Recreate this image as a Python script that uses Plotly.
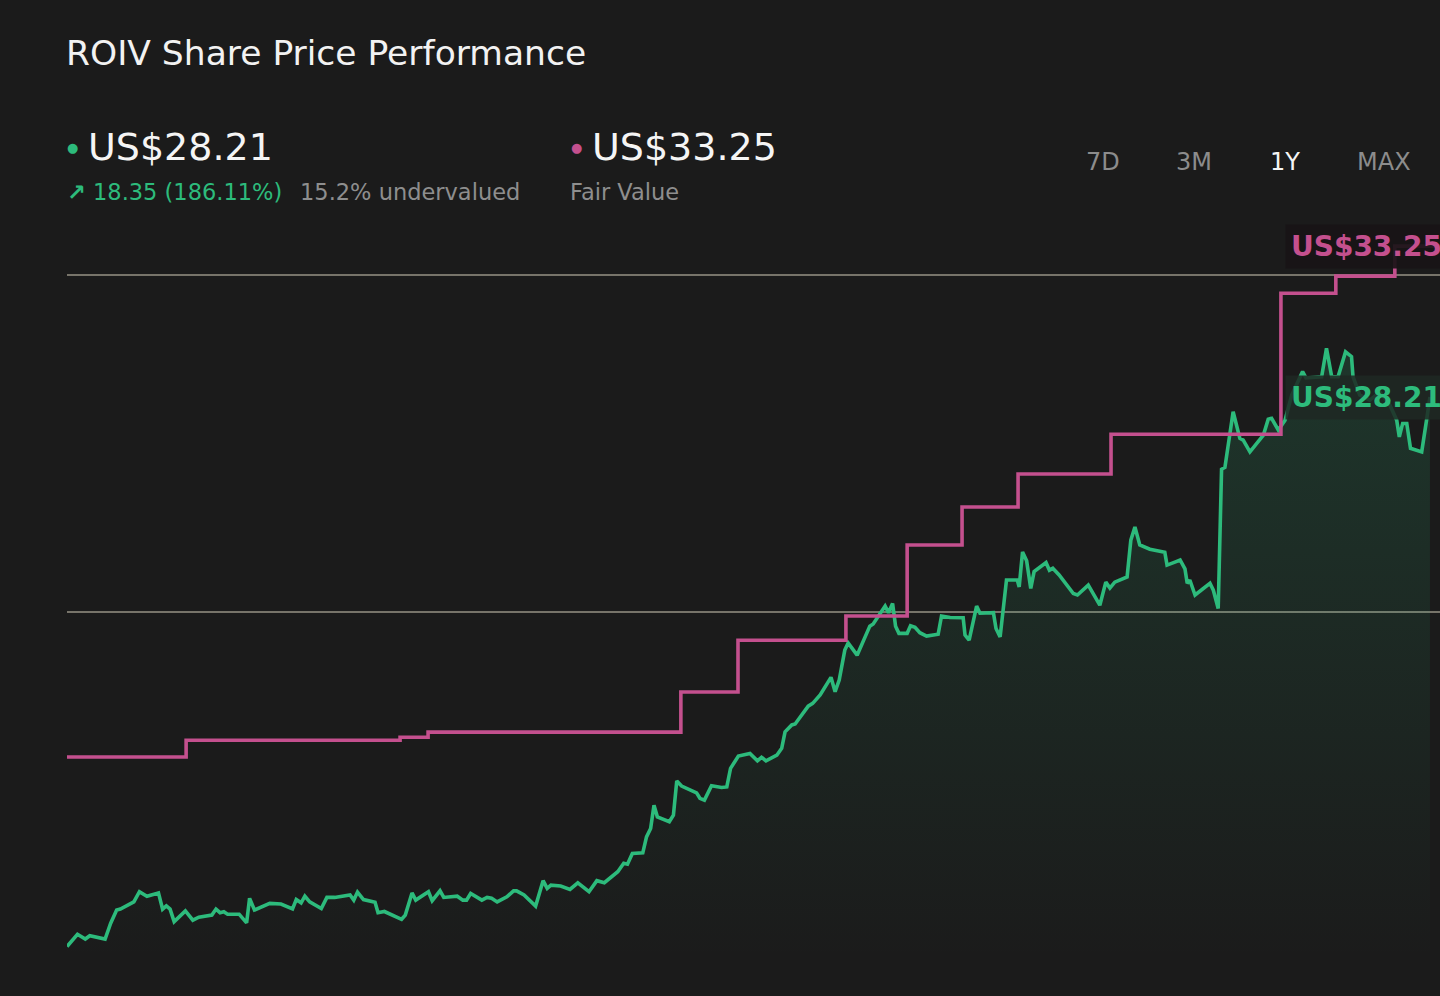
import plotly.graph_objects as go

# ROIV share price over the last year (x = days since start, y = US$)
days = [0, 2.8, 4.9, 6.1, 10.2, 11.7, 13.3, 14.3, 17.9, 19.4, 21.4, 24.5, 25.6, 26.6, 27.6, 28.7,
        31.7, 33.7, 35.3, 38.8, 39.9, 41.0, 42.0, 43.0, 46.1, 48.1, 48.9, 50.2, 54.3, 57.3, 60.4,
        61.4, 62.7, 63.7, 65.0, 68.1, 69.6, 71.7, 75.8, 76.8, 77.8, 79.4, 82.5, 83.3, 85.0, 89.6,
        90.6, 92.4, 93.4, 96.8, 97.8, 99.9, 100.9, 104.5, 106.0, 107.0, 108.1, 111.1, 112.5, 113.7,
        115.2, 117.8, 119.6, 120.4, 122.4, 125.5, 127.5, 128.6, 129.6, 132.2, 134.7, 136.8, 139.8,
        141.9, 143.9, 147.5, 149.1, 150.1, 151.4, 154.2, 155.2, 156.3, 157.2, 158.1, 161.3, 162.4,
        163.3, 164.6, 168.6, 169.5, 170.7, 172.6, 175.3, 176.7, 177.7, 179.8, 182.9, 184.9, 186.0,
        187.2, 190.1, 191.4, 192.3, 194.1, 195.0, 197.2, 198.5, 199.7, 201.7, 204.6, 205.7, 206.8,
        208.3, 209.2, 211.6, 215.0, 215.9, 219.1, 220.0, 221.1, 221.9, 222.8, 225.0, 225.9, 227.1,
        228.4, 230.2, 233.3, 234.2, 236.5, 240.0, 240.5, 241.6, 243.6, 244.5, 248.1, 248.8, 249.9,
        251.6, 254.5, 255.0, 255.9, 257.0, 258.1, 259.0, 262.2, 263.1, 264.0, 265.7, 269.5, 270.6,
        273.5, 276.6, 278.2, 279.3, 280.6, 283.9, 284.9, 286.0, 287.3, 290.0, 294.0, 294.6, 296.7,
        298.1, 299.4, 300.0, 300.7, 302.1, 306.1, 307.0, 308.3, 309.2, 310.1, 311.4, 312.3, 314.1,
        315.0, 316.8, 320.4, 321.7, 322.6, 324.4, 326.2, 328.0, 330.9, 331.8, 336.0, 337.3, 338.7,
        340.4, 342.4, 344.0, 344.4, 346.2, 348.9, 351.6, 354.3, 356.1, 356.8, 357.7, 358.8, 359.8,
        362.8, 364.1, 365.0]
price = [9.86, 10.27, 10.11, 10.22, 10.11, 10.64, 11.08, 11.11, 11.35, 11.69, 11.54, 11.65, 11.11,
         11.22, 11.11, 10.69, 11.05, 10.74, 10.84, 10.91, 11.11, 10.99, 11.02, 10.94, 10.94, 10.65,
         11.47, 11.08, 11.30, 11.28, 11.12, 11.43, 11.32, 11.54, 11.35, 11.13, 11.50, 11.50, 11.58,
         11.41, 11.68, 11.43, 11.34, 10.99, 11.03, 10.77, 10.91, 11.65, 11.41, 11.69, 11.39, 11.72,
         11.50, 11.54, 11.41, 11.41, 11.63, 11.41, 11.50, 11.47, 11.35, 11.52, 11.72, 11.72, 11.58,
         11.21, 12.06, 11.80, 11.91, 11.88, 11.77, 11.99, 11.69, 12.06, 11.99, 12.36, 12.64, 12.61,
         12.97, 12.99, 13.52, 13.80, 14.58, 14.19, 14.03, 14.25, 15.39, 15.22, 14.99, 14.81, 14.75,
         15.23, 15.17, 15.19, 15.81, 16.22, 16.31, 16.06, 16.18, 16.06, 16.25, 16.48, 17.03, 17.26,
         17.29, 17.70, 17.89, 17.98, 18.26, 18.85, 18.37, 18.76, 19.76, 20.00, 19.59, 20.56, 20.63,
         21.23, 21.01, 21.32, 20.56, 20.32, 20.32, 20.57, 20.52, 20.34, 20.23, 20.29, 20.90, 20.85,
         20.84, 20.26, 20.09, 21.23, 20.99, 21.01, 20.48, 20.20, 22.10, 22.10, 21.87, 23.04, 22.74,
         21.82, 22.38, 22.68, 22.43, 22.49, 22.27, 21.65, 21.60, 21.93, 21.26, 22.03, 21.83, 22.03,
         22.20, 23.43, 23.87, 23.27, 23.13, 23.03, 22.60, 22.70, 22.77, 22.47, 21.99, 22.10, 21.60,
         21.99, 21.76, 21.15, 25.80, 25.86, 26.88, 27.72, 26.83, 26.77, 26.38, 26.94, 27.47, 27.50,
         27.11, 27.44, 28.28, 29.06, 28.85, 28.89, 29.84, 28.89, 28.89, 29.72, 29.56, 28.89, 28.28,
         28.11, 28.38, 27.94, 27.44, 26.88, 27.33, 27.33, 26.50, 26.38, 27.44, 28.21]

# Fair value estimate (step changes)
fv_days = [0, 31.9, 89.2, 96.7, 164.4, 179.7, 208.6, 225.0, 239.7, 254.7, 279.6, 325.1, 339.8,
           355.6, 367.7]
fv_values = [16.19, 16.75, 16.85, 17.02, 18.36, 20.09, 20.90, 23.27, 24.54, 25.64, 26.97, 31.68,
             32.25, 33.25, 33.25]

grid_levels = [21.03, 32.29]
periods = ["7D", "3M", "1Y", "MAX"]

GREEN = "#2dbb7c"
PINK = "#c4508e"
BG = "#1b1b1b"
FONT = "DejaVu Sans"

W, H = 1440, 996
L, R, T, B = 67, 0, 230, 36


def px(x):
    return (x - L) / (W - L - R)


def py(y):
    return (H - B - y) / (H - B - T)


fig = go.Figure()

fig.add_trace(go.Scatter(
    x=days, y=price, mode="lines",
    line=dict(color=GREEN, width=3.6),
    fill="tozeroy",
    fillgradient=dict(type="vertical", start=9.4, stop=30,
                      colorscale=[[0, "rgba(45,187,124,0.0)"], [1, "rgba(45,187,124,0.17)"]]),
    hoverinfo="skip"
))

fig.add_trace(go.Scatter(
    x=fv_days, y=fv_values, mode="lines",
    line=dict(color=PINK, width=3.6, shape="hv"),
    hoverinfo="skip"
))

ann = []
ann.append(dict(text="ROIV Share Price Performance", x=px(64), y=py(53), xanchor="left",
                font=dict(size=34.5, color="#f2f2f2")))
ann.append(dict(text="●", x=px(72), y=py(147), font=dict(size=13, color=GREEN)))
ann.append(dict(text=f"US${price[-1]:.2f}", x=px(86), y=py(147), xanchor="left",
                font=dict(size=38, color="#f5f5f5")))
ann.append(dict(text="●", x=px(576), y=py(147), font=dict(size=13, color=PINK)))
ann.append(dict(text=f"US${fv_values[-1]:.2f}", x=px(590), y=py(147), xanchor="left",
                font=dict(size=38, color="#f5f5f5")))
change = price[-1] - price[0]
pct = change / price[0] * 100
under = (fv_values[-1] - price[-1]) / fv_values[-1] * 100
ann.append(dict(text=f"<b>↗</b> {change:.2f} ({pct:.2f}%)", x=px(65), y=py(192), xanchor="left",
                font=dict(size=22.5, color=GREEN)))
ann.append(dict(text=f"{under:.1f}% undervalued", x=px(298), y=py(192), xanchor="left",
                font=dict(size=22.5, color="#8e8e8e")))
ann.append(dict(text="Fair Value", x=px(568), y=py(192), xanchor="left",
                font=dict(size=22.5, color="#8e8e8e")))
for p, cx in zip(periods, [1103, 1194, 1285, 1384]):
    ann.append(dict(text=p, x=px(cx), y=py(162),
                    font=dict(size=24, color="#f5f5f5" if p == "1Y" else "#8c8c8c")))

for a in ann:
    a.update(xref="paper", yref="paper", showarrow=False, yanchor="middle")
    a.setdefault("xanchor", "center")

# value labels at the right edge
ann.append(dict(text=f"<b>US${fv_values[-1]:.2f}</b>", xref="paper", yref="y", x=px(1285),
                y=fv_values[-1], xanchor="left", yanchor="middle", showarrow=False,
                bgcolor="rgba(24,20,22,0.92)", borderpad=5,
                font=dict(size=28, color=PINK)))
ann.append(dict(text=f"<b>US${price[-1]:.2f}</b>", xref="paper", yref="y", x=px(1285),
                y=price[-1], xanchor="left", yanchor="middle", showarrow=False,
                bgcolor="rgba(30,40,35,0.85)", borderpad=5,
                font=dict(size=28, color=GREEN)))

fig.update_layout(
    width=W, height=H,
    margin=dict(l=L, r=R, t=T, b=B),
    paper_bgcolor=BG, plot_bgcolor=BG,
    font=dict(family=FONT),
    showlegend=False,
    annotations=ann,
    xaxis=dict(range=[0, 367.7], visible=False, showgrid=False, zeroline=False, fixedrange=True),
    yaxis=dict(range=[9.41, 33.79], tickvals=grid_levels, showticklabels=False, ticks="",
               showgrid=True, gridcolor="#77746a", gridwidth=1.5, zeroline=False, showline=False,
               fixedrange=True),
)

fig.write_html("out.html", config={"displayModeBar": False},
               post_script="document.body.style.margin='0';")
